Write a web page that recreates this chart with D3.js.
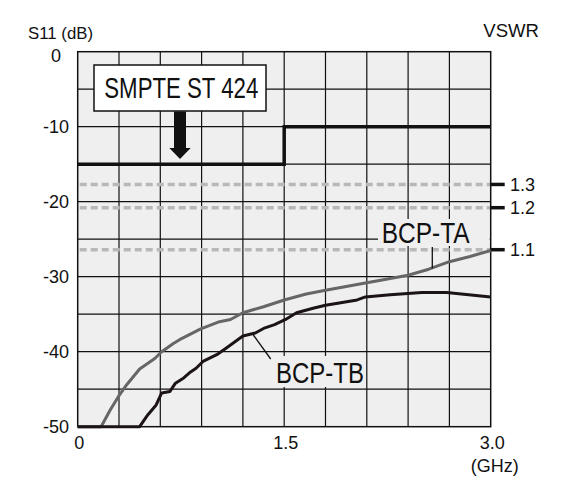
<!DOCTYPE html>
<html>
<head>
<meta charset="utf-8">
<script src="https://cdn.jsdelivr.net/npm/d3@7.9.0/dist/d3.min.js"></script>
<style>
  body { margin: 0; background: #fff; }
  text { font-family: "Liberation Sans", Arial, sans-serif; fill: #111; }
</style>
</head>
<body>
<div id="chart"></div>
<script>
// frequency (GHz) and S11 (dB)
const freqTA = [0, 0.17, 0.235, 0.295, 0.356, 0.45, 0.56, 0.61, 0.695, 0.74, 0.89, 1.03, 1.11, 1.2, 1.35, 1.5, 1.66, 1.8, 1.95, 2.1, 2.25, 2.4, 2.55, 2.7, 2.85, 3.0];
const s11TA = [-50, -50, -47.8, -46.0, -44.4, -42.3, -40.9, -40.0, -38.9, -38.4, -37.0, -36.0, -35.7, -34.8, -34.0, -33.1, -32.3, -31.8, -31.3, -30.8, -30.3, -29.8, -29.0, -28.0, -27.3, -26.5];

const freqTB = [0, 0.45, 0.51, 0.57, 0.61, 0.67, 0.71, 0.77, 0.82, 0.86, 0.91, 1.01, 1.08, 1.2, 1.29, 1.35, 1.43, 1.51, 1.59, 1.71, 1.8, 1.9, 2.03, 2.09, 2.27, 2.5, 2.68, 3.0];
const s11TB = [-50, -50, -48.4, -47.1, -45.5, -45.3, -44.2, -43.5, -42.7, -42.2, -41.3, -40.4, -39.5, -37.9, -37.5, -36.9, -36.4, -35.7, -34.8, -34.2, -33.8, -33.5, -33.1, -32.7, -32.4, -32.1, -32.1, -32.7];

// SMPTE ST 424 limit (step)
const limitFreq = [0, 1.5, 3.0];
const limitDb = [-15, -10, -10];

// VSWR reference lines
const vswrLabels = ['1.1', '1.2', '1.3'];
const vswrDb = [-26.4, -20.8, -17.7];

const yTicks = [0, -10, -20, -30, -40, -50];
const xTickLabels = ['0', '1.5', '3.0'];
const xTicks = [0, 1.5, 3.0];

const width = 566;
const height = 482;

const svg = d3.select('#chart')
  .append('svg')
  .attr('width', width)
  .attr('height', height);

const x = d3.scaleLinear().domain([0, 3]).range([77.7, 490.7]);
const y = d3.scaleLinear().domain([-50, 0]).range([426.7, 51.7]);

// plot background
svg.append('rect')
  .attr('x', x(0)).attr('y', y(0))
  .attr('width', x(3) - x(0)).attr('height', y(-50) - y(0))
  .attr('fill', '#efefef');

// grid
const grid = svg.append('g').attr('stroke', '#111').attr('stroke-width', 1.2);
grid.selectAll('line.v')
  .data(d3.range(1, 10).map(i => i * 0.3))
  .join('line')
  .attr('x1', d => x(d)).attr('x2', d => x(d))
  .attr('y1', y(0)).attr('y2', y(-50));
grid.selectAll('line.h')
  .data(d3.range(1, 10).map(i => -i * 5))
  .join('line')
  .attr('class', 'h')
  .attr('x1', x(0)).attr('x2', x(3))
  .attr('y1', d => y(d)).attr('y2', d => y(d));

// VSWR dashed lines
svg.append('g').selectAll('line')
  .data(vswrDb)
  .join('line')
  .attr('x1', x(0) + 2).attr('x2', x(3))
  .attr('y1', d => y(d)).attr('y2', d => y(d))
  .attr('stroke', '#b8b8b8')
  .attr('stroke-width', 3.5)
  .attr('stroke-dasharray', '7 4');

// right VSWR ticks + labels
svg.append('g').selectAll('line')
  .data(vswrDb)
  .join('line')
  .attr('x1', x(3)).attr('x2', x(3) + 14)
  .attr('y1', d => y(d)).attr('y2', d => y(d))
  .attr('stroke', '#111')
  .attr('stroke-width', 3.5);
svg.append('g').selectAll('text')
  .data(vswrDb)
  .join('text')
  .attr('x', 510)
  .attr('y', d => y(d) + 6.5)
  .attr('font-size', 18)
  .text((d, i) => vswrLabels[i]);

// label backgrounds (hide grid behind curve labels)
svg.append('rect')
  .attr('x', 378).attr('y', 219)
  .attr('width', x(3) - 378 - 1).attr('height', 27)
  .attr('fill', '#efefef');
svg.append('rect')
  .attr('x', 272).attr('y', 356)
  .attr('width', 93).attr('height', 31)
  .attr('fill', '#efefef');

// frame
svg.append('rect')
  .attr('x', x(0)).attr('y', y(0))
  .attr('width', x(3) - x(0)).attr('height', y(-50) - y(0))
  .attr('fill', 'none')
  .attr('stroke', '#111')
  .attr('stroke-width', 1.5);

// curves
const line = d3.line().x(d => x(d[0])).y(d => y(d[1]));

svg.append('path')
  .datum(freqTA.map((f, i) => [f, s11TA[i]]))
  .attr('d', line)
  .attr('fill', 'none')
  .attr('stroke', '#666')
  .attr('stroke-width', 3)
  .attr('stroke-linejoin', 'round');

svg.append('path')
  .datum(freqTB.map((f, i) => [f, s11TB[i]]))
  .attr('d', line)
  .attr('fill', 'none')
  .attr('stroke', '#1c1414')
  .attr('stroke-width', 3)
  .attr('stroke-linejoin', 'round');

// SMPTE limit
svg.append('path')
  .datum(limitFreq.map((f, i) => [f, limitDb[i]]))
  .attr('d', line.curve(d3.curveStepAfter))
  .attr('fill', 'none')
  .attr('stroke', '#111')
  .attr('stroke-width', 3.5);

// SMPTE box + arrow
svg.append('rect')
  .attr('x', 94).attr('y', 65)
  .attr('width', 172).attr('height', 46)
  .attr('fill', '#fff')
  .attr('stroke', '#111')
  .attr('stroke-width', 1.5);
svg.append('text')
  .attr('x', 104.3).attr('y', 97.7)
  .attr('font-size', 29)
  .attr('textLength', 154)
  .attr('lengthAdjust', 'spacingAndGlyphs')
  .text('SMPTE ST 424');
svg.append('path')
  .attr('d', 'M174,111.5 L186,111.5 L186,148 L190.7,148 L180,159 L169.3,148 L174,148 Z')
  .attr('fill', '#111');

// curve labels + leaders
svg.append('text')
  .attr('x', 381.7).attr('y', 243.3)
  .attr('font-size', 29)
  .attr('textLength', 88)
  .attr('lengthAdjust', 'spacingAndGlyphs')
  .text('BCP-TA');
svg.append('line')
  .attr('x1', 432.3).attr('x2', 432.3)
  .attr('y1', 247).attr('y2', 268.5)
  .attr('stroke', '#111').attr('stroke-width', 1.3);

svg.append('text')
  .attr('x', 276).attr('y', 382.7)
  .attr('font-size', 29)
  .attr('textLength', 88)
  .attr('lengthAdjust', 'spacingAndGlyphs')
  .text('BCP-TB');
svg.append('line')
  .attr('x1', 253.3).attr('x2', 270.7)
  .attr('y1', 335).attr('y2', 359)
  .attr('stroke', '#111').attr('stroke-width', 1.3);

// y tick labels
svg.append('g').selectAll('text')
  .data(yTicks)
  .join('text')
  .attr('x', 56)
  .attr('y', d => d === 0 ? y(d) + 10.5 : y(d) + 6.5)
  .attr('text-anchor', 'middle')
  .attr('font-size', 18)
  .text(d => d);

// x tick labels
svg.append('g').selectAll('text')
  .data(xTicks)
  .join('text')
  .attr('x', d => x(d) + 1.5)
  .attr('y', 449)
  .attr('text-anchor', 'middle')
  .attr('font-size', 18)
  .text((d, i) => xTickLabels[i]);

// axis titles
svg.append('text')
  .attr('x', 28).attr('y', 39)
  .attr('font-size', 17)
  .attr('textLength', 65)
  .attr('lengthAdjust', 'spacingAndGlyphs')
  .text('S11 (dB)');
svg.append('text')
  .attr('x', 483.3).attr('y', 36.7)
  .attr('font-size', 17.5)
  .attr('textLength', 55.7)
  .attr('lengthAdjust', 'spacingAndGlyphs')
  .text('VSWR');
svg.append('text')
  .attr('x', 494.7).attr('y', 471.5)
  .attr('text-anchor', 'middle')
  .attr('font-size', 18)
  .text('(GHz)');
</script>
</body>
</html>
